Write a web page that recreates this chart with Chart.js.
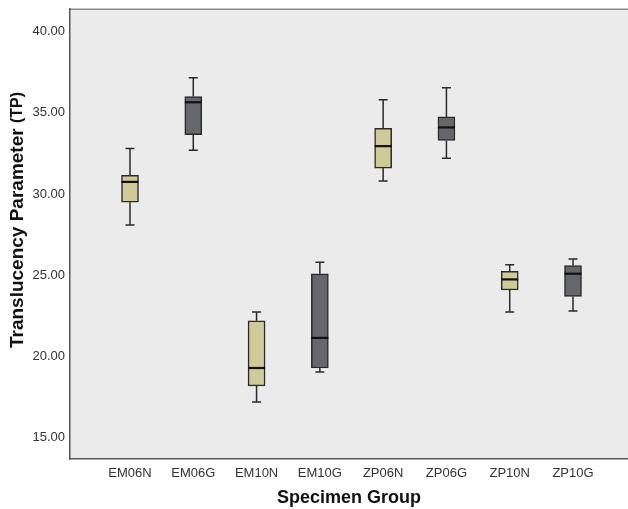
<!DOCTYPE html>
<html>
<head>
<meta charset="utf-8">
<script src="https://cdn.jsdelivr.net/npm/chart.js@4/dist/chart.umd.min.js"></script>
<style>
html,body{margin:0;padding:0;background:#fff;}
#wrap{width:628px;height:509px;position:relative;}
</style>
</head>
<body>
<div id="wrap"><canvas id="c"></canvas></div>
<script>
const categories = ["EM06N","EM06G","EM10N","EM10G","ZP06N","ZP06G","ZP10N","ZP10G"];
const whiskerMin = [28.1, 32.7, 17.2, 19.05, 30.8, 32.2, 22.75, 22.8];
const q1Values   = [29.5, 33.65, 18.2, 19.3, 31.6, 33.3, 24.1, 23.7];
const medians    = [30.75, 35.65, 19.3, 21.15, 32.95, 34.1, 24.75, 25.1];
const q3Values   = [31.15, 36.0, 22.2, 25.1, 34.05, 34.75, 25.25, 25.6];
const whiskerMax = [32.8, 37.15, 22.75, 25.8, 35.8, 36.55, 25.65, 26.0];
const yTicks = [15, 20, 25, 30, 35, 40];
const boxColors = ["#cfca98","#65676a","#cfca98","#65676a","#cfca98","#65676a","#cfca98","#65676a"];
const yTitleMain = "Translucency Parameter ";
const yTitleUnit = "(TP)";

const boxData = categories.map((c, i) => ({x: i, y: [q1Values[i], q3Values[i]]}));
const FONT = '"Liberation Sans", Arial, sans-serif';

const bgPlugin = {
  id: 'bg',
  beforeDraw(chart) {
    const {ctx, chartArea: a} = chart;
    ctx.save();
    ctx.fillStyle = '#ebebeb';
    ctx.fillRect(a.left, a.top, a.right - a.left, a.bottom - a.top);
    ctx.strokeStyle = '#8a8a8a';
    ctx.lineWidth = 1.5;
    ctx.beginPath();
    ctx.moveTo(a.left, a.top + 0.5);
    ctx.lineTo(a.right, a.top + 0.5);
    ctx.stroke();
    ctx.restore();
  },
  afterDraw(chart) {
    const {ctx} = chart;
    ctx.save();
    ctx.fillStyle = '#111';
    const f1 = 'bold 19px ' + FONT, f2 = 'bold 16px ' + FONT;
    ctx.font = f1; const w1 = ctx.measureText(yTitleMain).width;
    ctx.font = f2; const w2 = ctx.measureText(yTitleUnit).width;
    const total = w1 + w2;
    const cy = 220, cx = 18;
    ctx.translate(cx, cy);
    ctx.rotate(-Math.PI / 2);
    ctx.textBaseline = 'middle';
    ctx.textAlign = 'left';
    ctx.font = f1;
    ctx.fillText(yTitleMain, -total / 2, 0);
    ctx.font = f2;
    ctx.fillText(yTitleUnit, -total / 2 + w1, 0);
    ctx.restore();
  }
};

const boxPlugin = {
  id: 'boxparts',
  afterDatasetsDraw(chart) {
    const {ctx, scales: {x, y}} = chart;
    const half = 8.5, cap = 4.5;
    ctx.save();
    ctx.strokeStyle = '#2a2a2a';
    ctx.lineWidth = 1.5;
    categories.forEach((c, i) => {
      const px = x.getPixelForValue(i);
      const yMax = y.getPixelForValue(whiskerMax[i]);
      const yMin = y.getPixelForValue(whiskerMin[i]);
      const yQ1 = y.getPixelForValue(q1Values[i]);
      const yQ3 = y.getPixelForValue(q3Values[i]);
      ctx.beginPath();
      ctx.moveTo(px, yQ3); ctx.lineTo(px, yMax);
      ctx.moveTo(px - cap, yMax); ctx.lineTo(px + cap, yMax);
      ctx.moveTo(px, yQ1); ctx.lineTo(px, yMin);
      ctx.moveTo(px - cap, yMin); ctx.lineTo(px + cap, yMin);
      ctx.stroke();
    });
    ctx.strokeStyle = '#111';
    ctx.lineWidth = 2.2;
    categories.forEach((c, i) => {
      const px = x.getPixelForValue(i);
      const ym = y.getPixelForValue(medians[i]);
      ctx.beginPath();
      ctx.moveTo(px - half, ym); ctx.lineTo(px + half, ym);
      ctx.stroke();
    });
    ctx.restore();
  }
};

new Chart(document.getElementById('c'), {
  type: 'bar',
  data: {
    datasets: [{
      data: boxData,
      backgroundColor: boxColors,
      borderColor: '#2a2a2a',
      borderWidth: 1.5,
      borderSkipped: false,
      barThickness: 17
    }]
  },
  options: {
    responsive: true,
    maintainAspectRatio: false,
    animation: false,
    events: [],
    layout: {padding: {top: 7, right: 0, left: 0, bottom: 0}},
    plugins: {legend: {display: false}, tooltip: {enabled: false}},
    scales: {
      x: {
        type: 'linear',
        offset: false,
        min: -0.948,
        max: 7.869,
        afterBuildTicks(s) { s.ticks = categories.map((c, i) => ({value: i})); },
        afterFit(s) { s.height = 50; },
        grid: {display: false, drawTicks: true, tickLength: 4, tickColor: '#999'},
        border: {display: true, color: '#555', width: 1.5},
        ticks: {
          autoSkip: false, maxRotation: 0, padding: 3,
          color: '#333',
          font: {family: FONT, size: 13},
          callback: (v) => categories[v] ?? ''
        },
        title: {
          display: true, text: 'Specimen Group', color: '#111',
          font: {family: FONT, size: 18, weight: 'bold'},
          padding: {top: 4, bottom: 0}
        }
      },
      y: {
        min: 13.7,
        max: 41.4,
        afterBuildTicks(s) { s.ticks = yTicks.map(v => ({value: v})); },
        afterFit(s) { s.width = 70; },
        grid: {display: false, drawTicks: true, tickLength: 4, tickColor: '#999'},
        border: {display: true, color: '#555', width: 1.5},
        ticks: {
          color: '#333', padding: 1,
          font: {family: FONT, size: 13},
          callback: (v) => Number(v).toFixed(2)
        }
      }
    }
  },
  plugins: [bgPlugin, boxPlugin]
});
</script>
</body>
</html>
